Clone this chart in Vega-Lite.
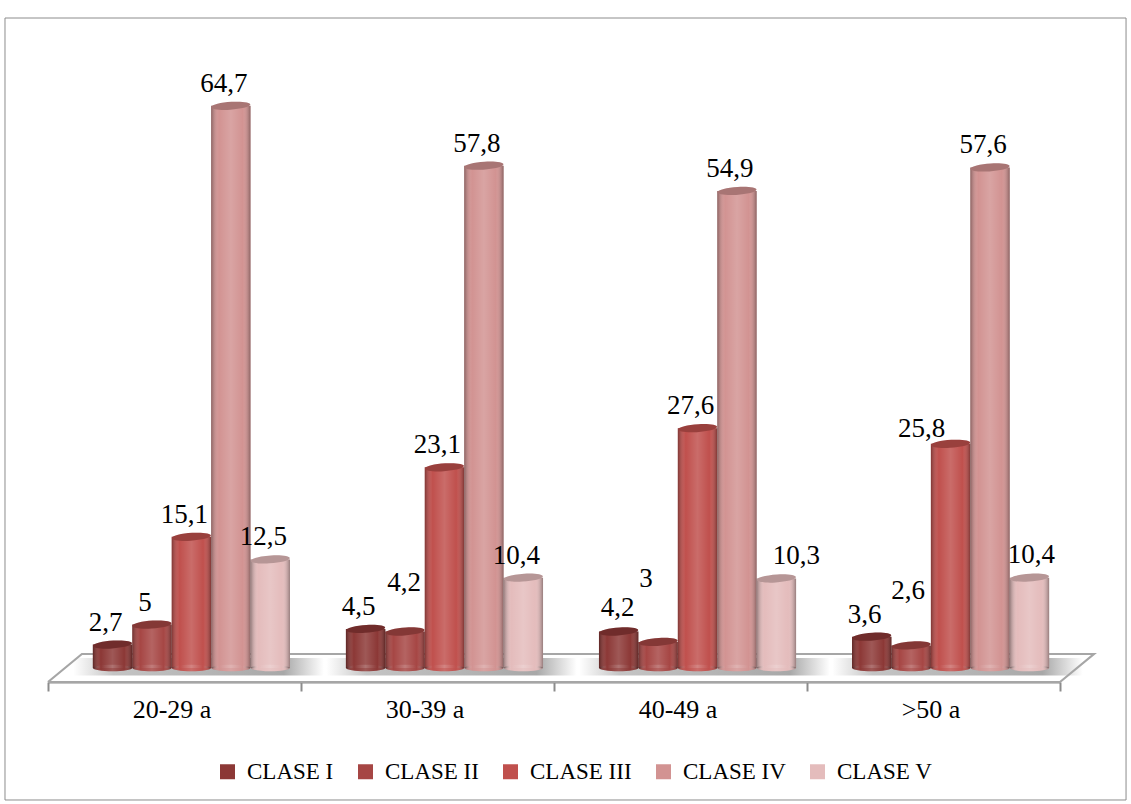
{
  "$schema": "https://vega.github.io/schema/vega-lite/v6.json",
  "width": 1012,
  "height": 664,
  "autosize": {"type": "none"},
  "padding": {"left": 48, "top": 18, "right": 71, "bottom": 122},
  "background": "white",
  "config": {"view": {"stroke": null}, "font": "Liberation Serif"},
  "datasets": {
    "marco": [{"x0": -0.17, "x1": 4.261, "y0": -15.19, "y1": 74.8}],
    "suelo": [
      {"paso": 1, "fx": 0, "fy": -1.61},
      {"paso": 2, "fx": 0.134, "fy": 1.61},
      {"paso": 3, "fx": 4.134, "fy": 1.61},
      {"paso": 4, "fx": 4, "fy": -1.61},
      {"paso": 5, "fx": 0, "fy": -1.61}
    ],
    "sombra": [
      {"x0": 0.1, "x1": 1.09, "y0": -0.85, "y1": 1.15},
      {"x0": 1.1, "x1": 2.09, "y0": -0.85, "y1": 1.15},
      {"x0": 2.1, "x1": 3.09, "y0": -0.85, "y1": 1.15},
      {"x0": 3.1, "x1": 4.09, "y0": -0.85, "y1": 1.15}
    ],
    "grupos": [{"edad": "20-29 a"}, {"edad": "30-39 a"}, {"edad": "40-49 a"}, {"edad": ">50 a"}],
    "clases": [
      {"edad": "20-29 a", "clase": "CLASE I", "valor": 2.7, "etiqueta": "2,7"},
      {"edad": "20-29 a", "clase": "CLASE II", "valor": 5, "etiqueta": "5"},
      {"edad": "20-29 a", "clase": "CLASE III", "valor": 15.1, "etiqueta": "15,1"},
      {"edad": "20-29 a", "clase": "CLASE IV", "valor": 64.7, "etiqueta": "64,7"},
      {"edad": "20-29 a", "clase": "CLASE V", "valor": 12.5, "etiqueta": "12,5"},
      {"edad": "30-39 a", "clase": "CLASE I", "valor": 4.5, "etiqueta": "4,5"},
      {"edad": "30-39 a", "clase": "CLASE II", "valor": 4.2, "etiqueta": "4,2"},
      {"edad": "30-39 a", "clase": "CLASE III", "valor": 23.1, "etiqueta": "23,1"},
      {"edad": "30-39 a", "clase": "CLASE IV", "valor": 57.8, "etiqueta": "57,8"},
      {"edad": "30-39 a", "clase": "CLASE V", "valor": 10.4, "etiqueta": "10,4"},
      {"edad": "40-49 a", "clase": "CLASE I", "valor": 4.2, "etiqueta": "4,2"},
      {"edad": "40-49 a", "clase": "CLASE II", "valor": 3, "etiqueta": "3"},
      {"edad": "40-49 a", "clase": "CLASE III", "valor": 27.6, "etiqueta": "27,6"},
      {"edad": "40-49 a", "clase": "CLASE IV", "valor": 54.9, "etiqueta": "54,9"},
      {"edad": "40-49 a", "clase": "CLASE V", "valor": 10.3, "etiqueta": "10,3"},
      {"edad": ">50 a", "clase": "CLASE I", "valor": 3.6, "etiqueta": "3,6"},
      {"edad": ">50 a", "clase": "CLASE II", "valor": 2.6, "etiqueta": "2,6"},
      {"edad": ">50 a", "clase": "CLASE III", "valor": 25.8, "etiqueta": "25,8"},
      {"edad": ">50 a", "clase": "CLASE IV", "valor": 57.6, "etiqueta": "57,6"},
      {"edad": ">50 a", "clase": "CLASE V", "valor": 10.4, "etiqueta": "10,4"}
    ]
  },
  "resolve": {"scale": {"x": "independent"}, "axis": {"x": "independent"}},
  "layer": [
    {
      "encoding": {
        "x": {"type": "quantitative", "scale": {"domain": [0, 4], "nice": false, "zero": false}, "axis": null},
        "y": {"type": "quantitative", "scale": {"domain": [-1.611, 74.8], "nice": false, "zero": false}, "axis": null}
      },
      "layer": [
        {
          "data": {"name": "marco"},
          "mark": {"type": "rect", "fill": "transparent", "stroke": "#8c8c8c", "strokeWidth": 1},
          "encoding": {
            "x": {"field": "x0", "type": "quantitative"},
            "x2": {"field": "x1"},
            "y": {"field": "y0", "type": "quantitative"},
            "y2": {"field": "y1"}
          }
        },
        {
          "data": {"name": "sombra"},
          "mark": {
            "type": "rect",
            "fill": {
              "x1": 0, "y1": 0, "x2": 1, "y2": 0, "gradient": "linear",
              "stops": [
                {"offset": 0, "color": "#ffffff"},
                {"offset": 0.16, "color": "#c4c4c4"},
                {"offset": 0.84, "color": "#a8a8a8"},
                {"offset": 1, "color": "#ffffff"}
              ]
            }
          },
          "encoding": {
            "x": {"field": "x0", "type": "quantitative"},
            "x2": {"field": "x1"},
            "y": {"field": "y0", "type": "quantitative"},
            "y2": {"field": "y1"}
          }
        },
        {
          "data": {"name": "suelo"},
          "mark": {"type": "line", "stroke": "#a6a6a6", "strokeWidth": 2.2, "strokeJoin": "miter"},
          "encoding": {
            "x": {"field": "fx", "type": "quantitative"},
            "y": {"field": "fy", "type": "quantitative"},
            "order": {"field": "paso", "type": "ordinal"}
          }
        }
      ]
    },
    {
      "data": {"name": "grupos"},
      "mark": {"type": "rule", "opacity": 0},
      "encoding": {
        "x": {
          "field": "edad", "type": "nominal", "sort": null, "title": null,
          "scale": {"paddingInner": 0, "paddingOuter": 0},
          "axis": {
            "orient": "bottom",
            "labelAngle": 0, "labelFontSize": 26, "labelColor": "#000000", "labelPadding": 5, "labelOffset": -3,
            "domainColor": "#8c8c8c", "domainWidth": 2, "tickColor": "#8c8c8c", "tickWidth": 2,
            "tickSize": 9, "tickBand": "extent", "grid": false, "labelFont": "Liberation Serif"
          }
        }
      }
    },
    {
      "data": {"name": "clases"},
      "encoding": {
        "x": {
          "field": "edad", "type": "nominal", "sort": null, "title": null,
          "scale": {"paddingInner": 0.221, "paddingOuter": 0.11, "range": [17, 1029]},
          "axis": null
        },
        "xOffset": {
          "field": "clase", "type": "nominal", "sort": null,
          "scale": {"paddingInner": 0, "paddingOuter": 0}
        },
        "y": {"field": "valor", "type": "quantitative", "scale": {"domain": [-1.611, 74.8], "nice": false, "zero": false}, "axis": null},
        "color": {
          "field": "clase", "type": "nominal", "sort": null, "title": null,
          "scale": {
            "domain": ["CLASE I", "CLASE II", "CLASE III", "CLASE IV", "CLASE V"],
            "range": ["#8c3836", "#a64644", "#c0504d", "#d29392", "#e4bcbc"]
          },
          "legend": {
            "orient": "none", "legendX": 168, "legendY": 742, "direction": "horizontal", "columns": 5,
            "symbolType": "square", "symbolSize": 225, "symbolOpacity": 1, "symbolStrokeWidth": 0,
            "labelFontSize": 23, "labelColor": "#000000", "labelFont": "Liberation Serif",
            "labelOffset": 8, "columnPadding": 20
          }
        }
      },
      "layer": [
        {
          "mark": {"type": "point", "filled": true, "opacity": 1, "shape": "M-1,0A1,0.17 0 1,0 1,0A1,0.17 0 1,0 -1,0Z", "size": 1521},
          "encoding": {"y": {"datum": 0, "type": "quantitative"}}
        },
        {
          "mark": {"type": "bar"},
          "encoding": {"y2": {"datum": 0}}
        },
        {
          "mark": {
            "type": "point", "filled": true, "opacity": 1,
            "shape": "M-1,0A1,0.17 0 1,0 1,0A1,0.17 0 1,0 -1,0Z", "size": 1521,
            "fill": {
              "x1": 0, "y1": 0, "x2": 1, "y2": 0, "gradient": "linear",
              "stops": [
                {"offset": 0, "color": "rgba(0,0,0,0.34)"},
                {"offset": 0.2, "color": "rgba(255,255,255,0)"},
                {"offset": 0.5, "color": "rgba(255,255,255,0.16)"},
                {"offset": 0.8, "color": "rgba(255,255,255,0)"},
                {"offset": 1, "color": "rgba(0,0,0,0.34)"}
              ]
            }
          },
          "encoding": {"y": {"datum": 0, "type": "quantitative"}, "color": {"value": null}}
        },
        {
          "mark": {
            "type": "bar",
            "fill": {
              "x1": 0, "y1": 0, "x2": 1, "y2": 0, "gradient": "linear",
              "stops": [
                {"offset": 0, "color": "rgba(0,0,0,0.34)"},
                {"offset": 0.2, "color": "rgba(255,255,255,0)"},
                {"offset": 0.5, "color": "rgba(255,255,255,0.16)"},
                {"offset": 0.8, "color": "rgba(255,255,255,0)"},
                {"offset": 1, "color": "rgba(0,0,0,0.34)"}
              ]
            }
          },
          "encoding": {"y2": {"datum": 0}, "color": {"value": null}}
        },
        {
          "mark": {"type": "point", "filled": true, "opacity": 1, "shape": "M-1,0.06A1,0.2 -4 1,1 1,-0.06A1,0.2 -4 1,1 -1,0.06Z", "size": 1521}
        },
        {
          "mark": {"type": "point", "filled": true, "opacity": 0.2, "shape": "M-1,0.06A1,0.2 -4 1,1 1,-0.06A1,0.2 -4 1,1 -1,0.06Z", "size": 1521},
          "encoding": {"color": {"value": "#000000"}}
        },
        {
          "transform": [{"filter": "!((datum.etiqueta == '4,2') || datum.etiqueta == '3' || datum.etiqueta == '10,3' || datum.etiqueta == '2,6' || datum.etiqueta == '25,8' || (datum.edad == '>50 a' && datum.clase == 'CLASE V'))"}],
          "mark": {"type": "text", "dx": -7, "dy": -22, "fontSize": 27, "baseline": "middle", "align": "center"},
          "encoding": {"text": {"field": "etiqueta"}, "color": {"value": "#000000"}}
        },
        {
          "transform": [{"filter": "datum.etiqueta == '4,2' && datum.edad == '30-39 a'"}],
          "mark": {"type": "text", "dx": -1, "dy": -49, "fontSize": 27, "baseline": "middle", "align": "center"},
          "encoding": {"text": {"field": "etiqueta"}, "color": {"value": "#000000"}}
        },
        {
          "transform": [{"filter": "datum.etiqueta == '4,2' && datum.edad == '40-49 a'"}],
          "mark": {"type": "text", "dx": -1, "dy": -24, "fontSize": 27, "baseline": "middle", "align": "center"},
          "encoding": {"text": {"field": "etiqueta"}, "color": {"value": "#000000"}}
        },
        {
          "transform": [{"filter": "datum.etiqueta == '3'"}],
          "mark": {"type": "text", "dx": -12, "dy": -63, "fontSize": 27, "baseline": "middle", "align": "center"},
          "encoding": {"text": {"field": "etiqueta"}, "color": {"value": "#000000"}}
        },
        {
          "transform": [{"filter": "datum.etiqueta == '10,3'"}],
          "mark": {"type": "text", "dx": 20, "dy": -22, "fontSize": 27, "baseline": "middle", "align": "center"},
          "encoding": {"text": {"field": "etiqueta"}, "color": {"value": "#000000"}}
        },
        {
          "transform": [{"filter": "datum.etiqueta == '2,6'"}],
          "mark": {"type": "text", "dx": -3, "dy": -54, "fontSize": 27, "baseline": "middle", "align": "center"},
          "encoding": {"text": {"field": "etiqueta"}, "color": {"value": "#000000"}}
        },
        {
          "transform": [{"filter": "datum.etiqueta == '25,8'"}],
          "mark": {"type": "text", "dx": -29, "dy": -15, "fontSize": 27, "baseline": "middle", "align": "center"},
          "encoding": {"text": {"field": "etiqueta"}, "color": {"value": "#000000"}}
        },
        {
          "transform": [{"filter": "datum.edad == '>50 a' && datum.clase == 'CLASE V'"}],
          "mark": {"type": "text", "dx": 2, "dy": -23, "fontSize": 27, "baseline": "middle", "align": "center"},
          "encoding": {"text": {"field": "etiqueta"}, "color": {"value": "#000000"}}
        }
      ]
    }
  ]
}
